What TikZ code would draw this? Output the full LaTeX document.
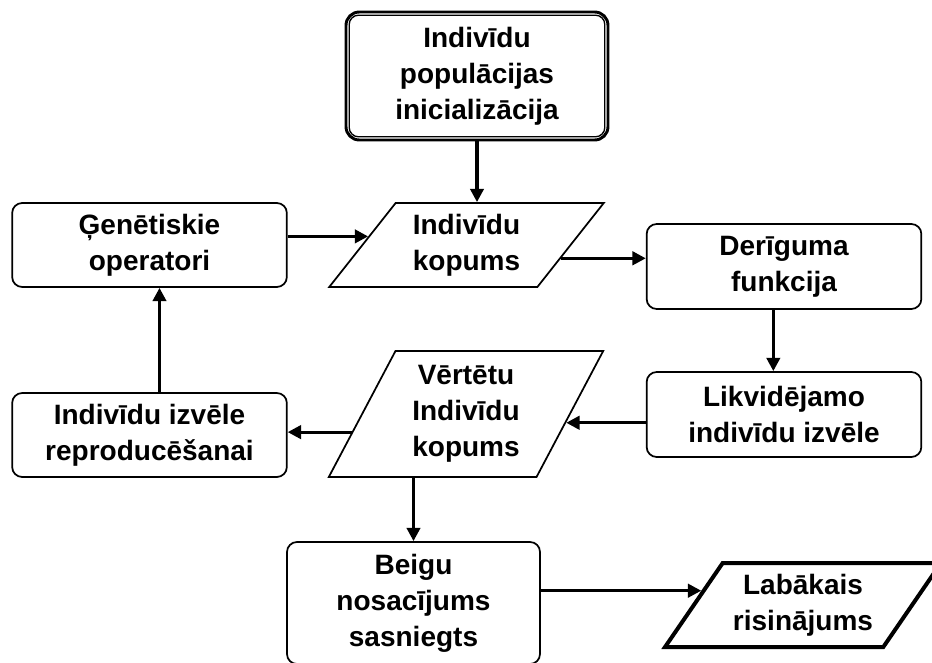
\documentclass[tikz,border=0pt]{standalone}
\usepackage{fontspec}
\setmainfont{Liberation Sans}[BoldFont={Liberation Sans Bold}]
\usepackage{tikz}
\usetikzlibrary{arrows.meta, shapes.geometric, calc}
\tikzset{
    blk/.style={draw=black, line width=1.3pt, rounded corners=7.5pt, align=center,
                font=\bfseries\fontsize{21}{27}\selectfont, minimum width=206pt, minimum height=63pt, inner sep=2pt},
    dat/.style={draw=black, line width=1.3pt, trapezium, trapezium stretches=true,
                trapezium left angle=51, trapezium right angle=129, align=center,
                font=\bfseries\fontsize{21}{27}\selectfont, minimum width=206pt, minimum height=63pt, inner sep=0pt},
    arr/.style={-{Triangle[length=10pt, width=10pt]}, line width=2.4pt, black},
}
\begin{document}
\begin{tikzpicture}[x=0.75pt, y=-0.75pt]
    \clip (0,0) rectangle (932,663);
    \node[blk, line width=2.2pt, rounded corners=10pt, minimum width=196.5pt, minimum height=96pt] (init) at (477,76) {Indivīdu\\populācijas\\inicializācija};
    \draw[line width=1pt, rounded corners=7pt] ([shift={(3.5pt,-3.5pt)}]init.north west) rectangle ([shift={(-3.5pt,3.5pt)}]init.south east);
    \node[dat] (ind) at (466.5,245) {Indivīdu\\kopums};
    \node[blk] (gen) at (149.5,245) {Ģenētiskie\\operatori};
    \node[blk, minimum height=63.75pt] (fit) at (784,266.5) {Derīguma\\funkcija};
    \node[blk, minimum height=63.75pt] (likv) at (784,414.5) {Likvidējamo\\indivīdu izvēle};
    \node[dat, trapezium left angle=62.4, trapezium right angle=117.6, minimum height=94.5pt] (vert) at (466,414) {Vērtētu\\Indivīdu\\kopums};
    \node[blk] (sel) at (149.5,435) {Indivīdu izvēle\\reproducēšanai};
    \node[blk, minimum width=189.75pt, minimum height=91.5pt] (end) at (413.5,603) {Beigu\\nosacījums\\sasniegts};
    \node[dat, line width=3pt, minimum width=207pt] (lab) at (803,605) {Labākais\\risinājums};
    \draw[arr] (init.south) -- (init.south |- ind.north);
    \draw[arr] (gen.east |- ind.175) -- (ind.175);
    \draw[arr] (ind.352) -- (fit.west |- ind.352);
    \draw[arr] ([xshift=-8pt]fit.south) -- ([xshift=-8pt]likv.north);
    \draw[arr] (likv.west |- vert.355) -- (vert.355);
    \draw[arr] (vert.189) -- (sel.east |- vert.189);
    \draw[arr] ([xshift=7.5pt]sel.north) -- ([xshift=7.5pt]gen.south);
    \draw[arr] (end.north |- vert.south) -- (end.north);
    \draw[arr] (end.east |- lab.172) -- (lab.172);
\end{tikzpicture}
\end{document}
